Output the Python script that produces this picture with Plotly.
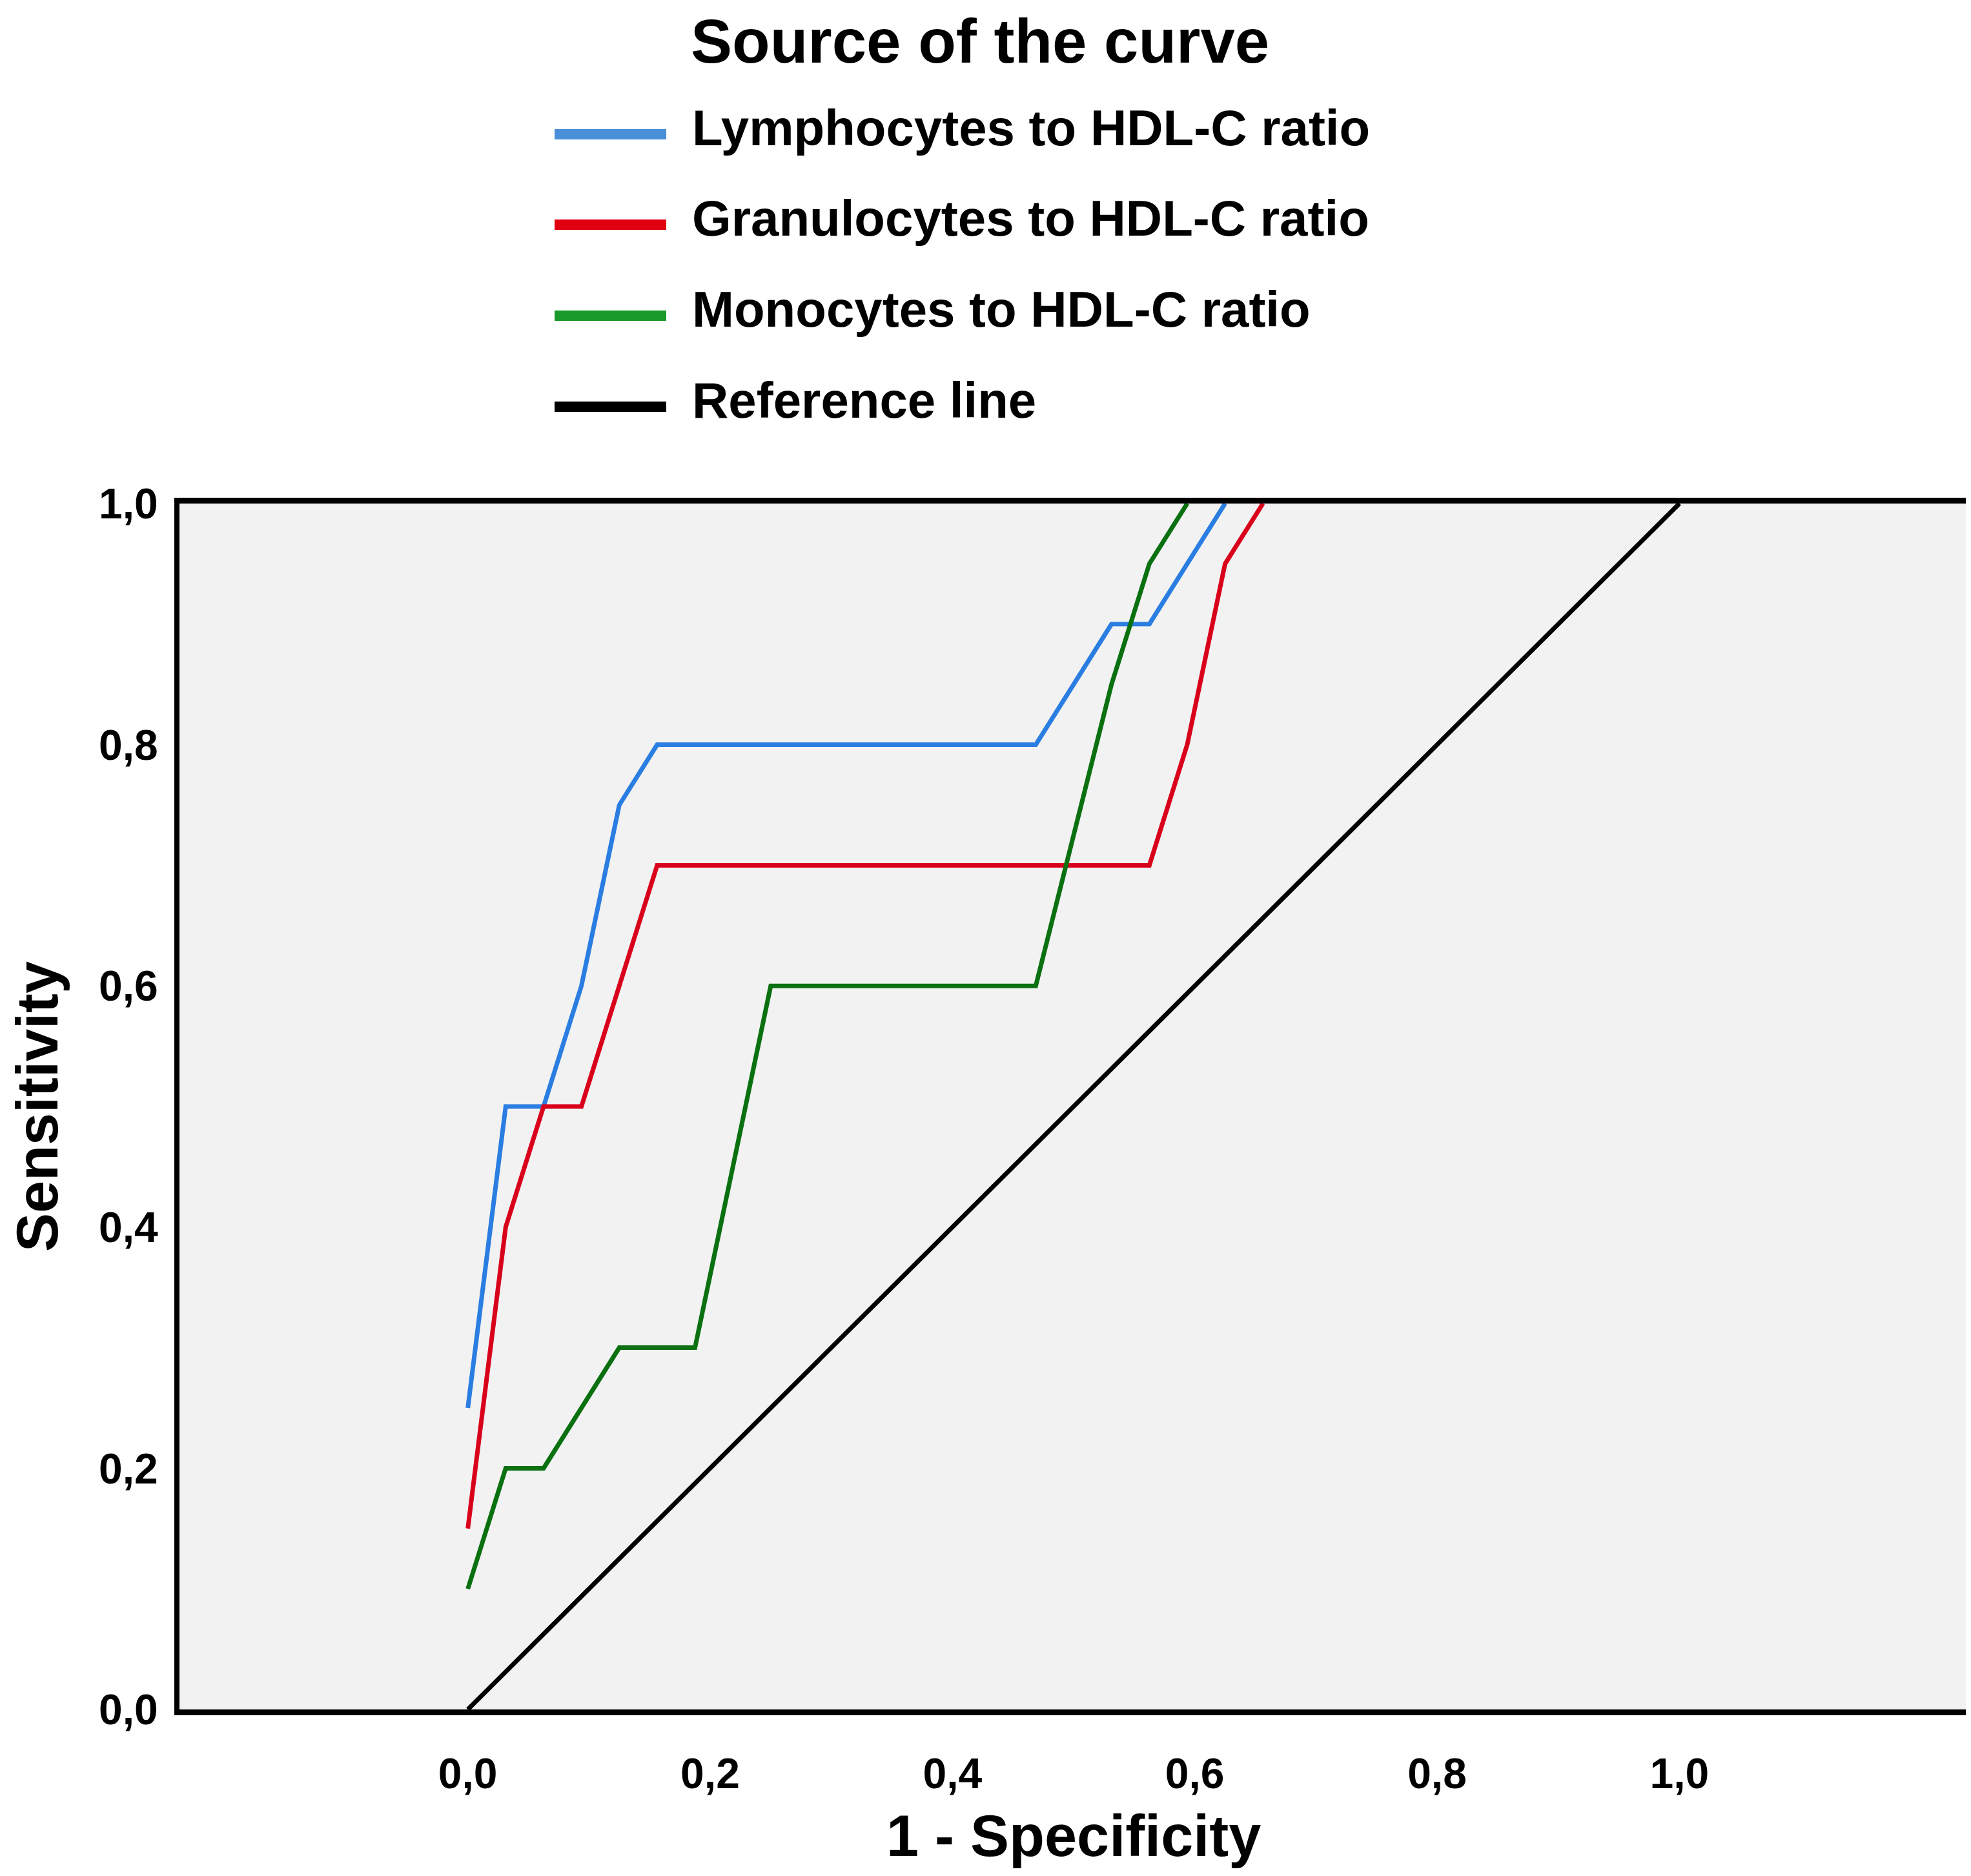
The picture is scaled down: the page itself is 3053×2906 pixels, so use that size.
import plotly.graph_objects as go

# ROC curves (1 - specificity, sensitivity)
lymph_x = [0, 0.03125, 0.0625, 0.09375, 0.125, 0.15625, 0.46875, 0.53125, 0.5625, 0.625]
lymph_y = [0.25, 0.5, 0.5, 0.6, 0.75, 0.8, 0.8, 0.9, 0.9, 1.0]

gran_x = [0, 0.03125, 0.0625, 0.09375, 0.15625, 0.5625, 0.59375, 0.625, 0.65625]
gran_y = [0.15, 0.4, 0.5, 0.5, 0.7, 0.7, 0.8, 0.95, 1.0]

mono_x = [0, 0.03125, 0.0625, 0.125, 0.1875, 0.25, 0.46875, 0.53125, 0.5625, 0.59375]
mono_y = [0.1, 0.2, 0.2, 0.3, 0.3, 0.6, 0.6, 0.85, 0.95, 1.0]

ref_x = [0, 1]
ref_y = [0, 1]

names = ["Lymphocytes to HDL-C ratio", "Granulocytes to HDL-C ratio",
         "Monocytes to HDL-C ratio", "Reference line"]
colors = ["#2a7de1", "#d9001b", "#0a7010", "#000000"]
legend_colors = ["#4a90d9", "#e00010", "#1a9a2a", "#000000"]

tick_vals = [0, 0.2, 0.4, 0.6, 0.8, 1.0]
tick_text = ["0,0", "0,2", "0,4", "0,6", "0,8", "1,0"]

W, H = 3053, 2906
L, R, T, B = 270, 3040, 772, 2640
FONT = "Liberation Sans, Arial, sans-serif"


def px(xp, yp):
    # pixel position in the page -> paper coords
    return (xp - L) / (R - L), (B - yp) / (B - T)


fig = go.Figure()
series = [(lymph_x, lymph_y), (gran_x, gran_y), (mono_x, mono_y), (ref_x, ref_y)]
for (xs, ys), name, col in zip(series, names, colors):
    fig.add_trace(go.Scatter(
        x=xs, y=ys, mode="lines", name=name,
        line=dict(color=col, width=7),
        showlegend=False,
    ))

# legend drawn by hand to get the long swatches
ann = []
shapes = []
tx, ty = px(1060, 0)
ann.append(dict(text="Source of the curve", x=tx, y=ty, xref="paper", yref="paper",
                xanchor="left", yanchor="top", showarrow=False,
                font=dict(family=FONT, size=96, color="black", weight="bold")))
rows = [200, 340, 481, 622]
for name, col, yrow in zip(names, legend_colors, rows):
    x0, y0 = px(851, yrow)
    x1, _ = px(1024, yrow)
    shapes.append(dict(type="line", xref="paper", yref="paper", x0=x0, x1=x1, y0=y0, y1=y0,
                       line=dict(color=col, width=16)))
    lx, ly = px(1062, yrow - 10)
    ann.append(dict(text=name, x=lx, y=ly, xref="paper", yref="paper",
                    xanchor="left", yanchor="middle", showarrow=False,
                    font=dict(family=FONT, size=78, color="black", weight="bold")))

# x axis title, placed by hand (the axis title is clamped inside the margin)
xt, yt = px((L + R) / 2, 2836)
ann.append(dict(text="1 - Specificity", x=xt, y=yt, xref="paper", yref="paper",
                xanchor="center", yanchor="middle", showarrow=False,
                font=dict(family=FONT, size=90, color="black", weight="bold")))

fig.update_layout(
    width=W, height=H,
    margin=dict(l=L, r=W - R, t=T, b=H - B, autoexpand=False),
    paper_bgcolor="white",
    plot_bgcolor="#f2f2f2",
    annotations=ann,
    shapes=shapes,
    font=dict(family=FONT, color="black"),
)

fig.update_xaxes(
    range=[-0.238, 1.238], tickvals=tick_vals, ticktext=tick_text,
    showgrid=False, zeroline=False, ticks="",
    showline=True, mirror=True, linecolor="black", linewidth=9,
    ticklabelstandoff=34,
    tickfont=dict(family=FONT, size=66, color="black", weight="bold"),
)
fig.update_yaxes(
    range=[0, 1], tickvals=tick_vals, ticktext=tick_text,
    showgrid=False, zeroline=False, ticks="",
    showline=True, mirror=True, linecolor="black", linewidth=8,
    ticklabelstandoff=12,
    tickfont=dict(family=FONT, size=66, color="black", weight="bold"),
    title=dict(text="Sensitivity", standoff=50,
               font=dict(family=FONT, size=90, color="black", weight="bold")),
)

fig.write_html("out.html")
